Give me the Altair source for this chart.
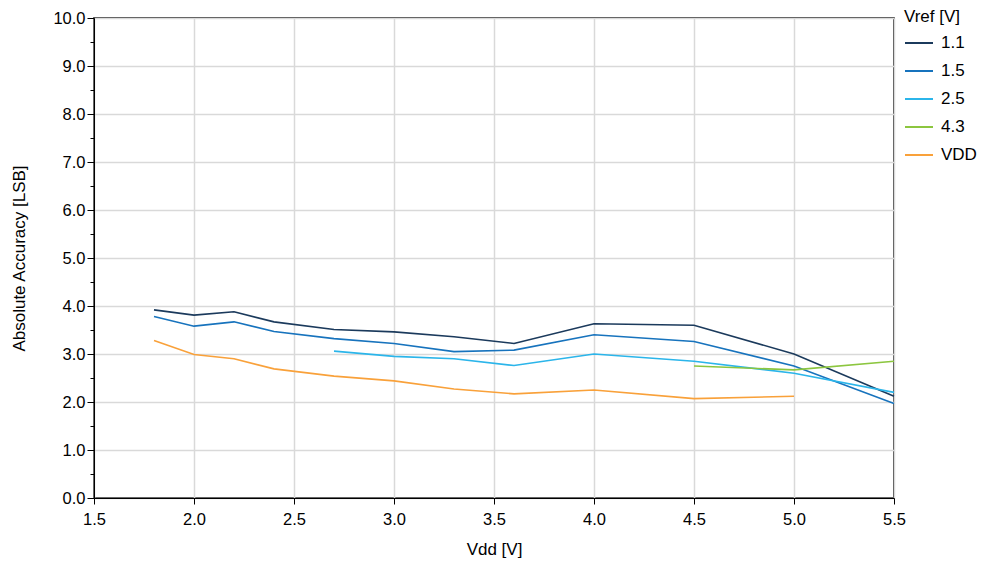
import altair as alt
import pandas as pd

vdd = [1.8, 2.0, 2.2, 2.4, 2.7, 3.0, 3.3, 3.6, 4.0, 4.5, 5.0, 5.5]
s_11 = [3.92, 3.81, 3.88, 3.67, 3.51, 3.46, 3.36, 3.22, 3.63, 3.60, 3.00, 2.12]
s_15 = [3.78, 3.58, 3.67, 3.47, 3.32, 3.22, 3.05, 3.08, 3.40, 3.26, 2.75, 1.97]
s_25 = [None, None, None, None, 3.06, 2.95, 2.90, 2.76, 3.00, 2.85, 2.60, 2.20]
s_43 = [None, None, None, None, None, None, None, None, None, 2.75, 2.67, 2.85]
s_vdd = [3.28, 2.99, 2.90, 2.69, 2.54, 2.44, 2.27, 2.17, 2.25, 2.07, 2.12, None]

series_names = ["1.1", "1.5", "2.5", "4.3", "VDD"]
series_vals = [s_11, s_15, s_25, s_43, s_vdd]
colors = ["#1b3a5c", "#1773bd", "#2bb5ea", "#8cc63f", "#f9a13a"]

rows = []
for name, vals in zip(series_names, series_vals):
    for xv, yv in zip(vdd, vals):
        if yv is not None:
            rows.append({"Vdd": xv, "Acc": yv, "Vref": name})
df = pd.DataFrame(rows)

font = "Liberation Sans"
tick_fs = 16.5
title_fs = 17

xscale = alt.Scale(domain=[1.5, 5.5], nice=False, zero=False)
yscale = alt.Scale(domain=[0, 10], nice=False)

xaxis = alt.Axis(
    title="Vdd [V]", values=[1.5, 2.0, 2.5, 3.0, 3.5, 4.0, 4.5, 5.0, 5.5],
    format=".1f", grid=True, tickSize=6, labelPadding=7, titlePadding=14,
    labelFlush=False, labelOverlap=False,
)
yaxis_major = alt.Axis(
    title="Absolute Accuracy [LSB]", orient="left",
    values=[0, 1, 2, 3, 4, 5, 6, 7, 8, 9, 10],
    format=".1f", grid=True, tickSize=7, labelPadding=2, titlePadding=24,
    labelFlush=False, labelOverlap=False,
)
yaxis_minor = alt.Axis(
    title=None, orient="left",
    values=[0.5, 1.5, 2.5, 3.5, 4.5, 5.5, 6.5, 7.5, 8.5, 9.5],
    labels=False, grid=False, domain=False, tickSize=4,
)

lines = alt.Chart(df).mark_line(strokeWidth=1.6).encode(
    x=alt.X("Vdd:Q", scale=xscale, axis=xaxis),
    y=alt.Y("Acc:Q", scale=yscale, axis=yaxis_major),
    color=alt.Color(
        "Vref:N",
        scale=alt.Scale(domain=series_names, range=colors),
        legend=alt.Legend(
            title="Vref [V]", orient="none", legendX=810, legendY=-9,
            titlePadding=2, symbolType="stroke", symbolStrokeWidth=2,
            symbolSize=784, rowPadding=5, labelOffset=7,
        ),
    ),
)

minor = alt.Chart(df).mark_point(opacity=0).encode(
    x=alt.X("Vdd:Q", scale=xscale),
    y=alt.Y("Acc:Q", scale=yscale, axis=yaxis_minor),
)

chart = (
    alt.layer(lines, minor)
    .resolve_axis(y="independent")
    .properties(
        width=800, height=480,
        autosize=alt.AutoSizeParams(type="none"),
        padding={"left": 86, "top": 10, "right": 83, "bottom": 66},
    )
    .configure_view(stroke="black", strokeWidth=1.5)
    .configure_axis(
        labelFont=font, labelFontSize=tick_fs, labelColor="black",
        titleFont=font, titleFontSize=title_fs, titleFontWeight="normal",
        titleColor="black", domainColor="black", tickColor="black",
        gridColor="#d9d9d9", gridWidth=1.5,
    )
    .configure_legend(
        titleFont=font, titleFontSize=title_fs, titleFontWeight="normal",
        titleColor="black", labelFont=font, labelFontSize=title_fs,
        labelColor="black",
    )
)

chart.save("out.html", embed_options={"renderer": "svg", "actions": False})
